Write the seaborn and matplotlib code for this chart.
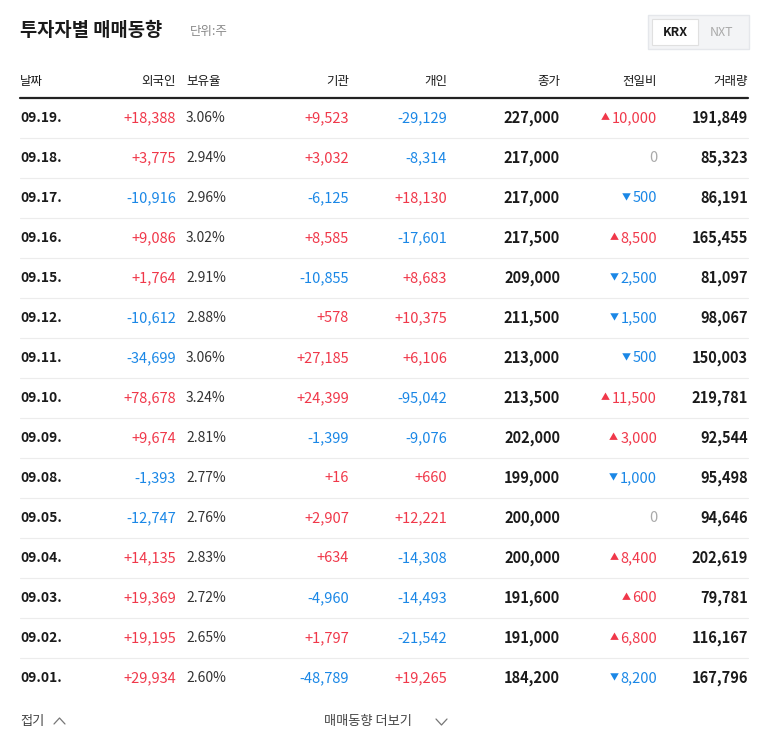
import matplotlib
matplotlib.use("Agg")
import matplotlib.pyplot as plt
import seaborn as sns

dates = ["09.19.","09.18.","09.17.","09.16.","09.15.","09.12.","09.11.","09.10.","09.09.","09.08.","09.05.","09.04.","09.03.","09.02.","09.01."]
foreign = [18388,3775,-10916,9086,1764,-10612,-34699,78678,9674,-1393,-12747,14135,19369,19195,29934]
ratio = [3.06,2.94,2.96,3.02,2.91,2.88,3.06,3.24,2.81,2.77,2.76,2.83,2.72,2.65,2.60]
inst = [9523,3032,-6125,8585,-10855,578,27185,24399,-1399,16,2907,634,-4960,1797,-48789]
indiv = [-29129,-8314,18130,-17601,8683,10375,6106,-95042,-9076,660,12221,-14308,-14493,-21542,19265]
close = [227000,217000,217000,217500,209000,211500,213000,213500,202000,199000,200000,200000,191600,191000,184200]
change = [10000,0,-500,8500,-2500,-1500,-500,11500,3000,-1000,0,8400,600,6800,-8200]
volume = [191849,85323,86191,165455,81097,98067,150003,219781,92544,95498,94646,202619,79781,116167,167796]

sns.set_theme(style="white")
FAM = ["Noto Sans CJK KR", "Noto Sans CJK JP", "Noto Sans CJK SC", "DejaVu Sans"]
plt.rcParams["font.family"] = FAM
plt.rcParams["font.sans-serif"] = FAM
RED, BLUE, DARK, GRAY = "#f0384a", "#1a87e6", "#1a1a1a", "#888888"

fig = plt.figure(figsize=(7.68, 7.49), dpi=100)
ax = fig.add_axes([0, 0, 1, 1])
ax.set_xlim(0, 768); ax.set_ylim(749, 0); ax.axis("off")

def T(x, y, s, **kw):
    return ax.text(x, y, s, family=FAM, va="center", **kw)

T(20, 31, "투자자별 매매동향", fontsize=13.5, fontweight="bold", color=DARK)
T(190, 32, "단위:주", fontsize=9, color=GRAY)
ax.add_patch(plt.Rectangle((648, 15), 101, 34, fc="#f3f4f6", ec="#e5e7eb", lw=1))
ax.add_patch(plt.Rectangle((652, 19), 46, 26, fc="white", ec="#e0e0e0", lw=0.8))
T(675, 32, "KRX", fontsize=9, fontweight="bold", color=DARK, ha="center")
T(722, 32, "NXT", fontsize=9, color="#aaaaaa", ha="center")

hy = 81
heads = [("날짜", 20, "left"), ("외국인", 176, "right"), ("보유율", 186, "left"), ("기관", 349, "right"),
         ("개인", 447, "right"), ("종가", 560, "right"), ("전일비", 657, "right"), ("거래량", 748, "right")]
for t, x, ha in heads:
    T(x, hy, t, fontsize=9, color=DARK, ha=ha)
ax.plot([20, 748], [98, 98], color="#222222", lw=1.6)

def col(v):
    return RED if v > 0 else (BLUE if v < 0 else DARK)

def sgn(v):
    return f"{v:+,}"

fig.canvas.draw()
r = fig.canvas.get_renderer()
for i in range(len(dates)):
    y = 118 + 40 * i
    T(20, y, dates[i], fontsize=10, fontweight="bold", color=DARK)
    T(176, y, sgn(foreign[i]), fontsize=10.5, color=col(foreign[i]), ha="right")
    T(186, y, f"{ratio[i]:.2f}%", fontsize=10, color="#333333")
    T(349, y, sgn(inst[i]), fontsize=10.5, color=col(inst[i]), ha="right")
    T(447, y, sgn(indiv[i]), fontsize=10.5, color=col(indiv[i]), ha="right")
    T(560, y, f"{close[i]:,}", fontsize=10.5, fontweight="bold", color=DARK, ha="right")
    c = change[i]
    if c == 0:
        T(657, y, "0", fontsize=10.5, color="#aaaaaa", ha="right")
    else:
        t = T(657, y, f"{abs(c):,}", fontsize=10.5, color=col(c), ha="right")
        w = t.get_window_extent(r).width
        T(657 - w - 2, y, "▲" if c > 0 else "▼", fontsize=6.5, color=col(c), ha="right")
    T(748, y, f"{volume[i]:,}", fontsize=10.5, fontweight="bold", color=DARK, ha="right")
    if i < len(dates) - 1:
        ax.plot([20, 748], [y + 20, y + 20], color="#ececec", lw=0.8)

T(20, 721, "접기", fontsize=9.5, color="#444444")
ax.plot([54, 59.5, 65], [724, 718, 724], color="#777777", lw=0.9)
T(324, 721, "매매동향 더보기", fontsize=9.5, color="#444444")
ax.plot([436, 441.5, 447], [719, 725, 719], color="#777777", lw=0.9)

fig.savefig("out.png", dpi=100)
